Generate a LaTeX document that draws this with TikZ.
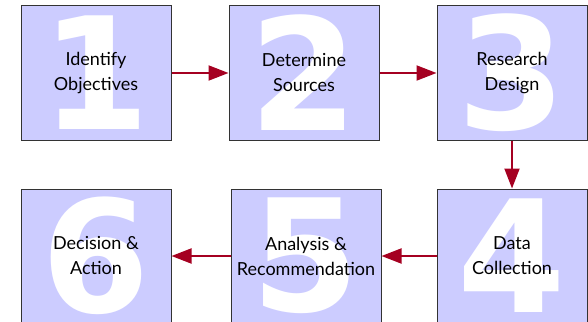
\documentclass[tikz,border=0pt]{standalone}
\usepackage{fontspec}
\setmainfont{Lato}
\newfontfamily\numfont{DejaVu Sans}
\usetikzlibrary{arrows.meta,positioning}
\definecolor{lavender}{RGB}{204,204,255}
\definecolor{dred}{RGB}{165,0,33}
\definecolor{frame}{RGB}{51,51,51}

\begin{document}
\begin{tikzpicture}[
  x=1pt, y=1pt,
  >={Triangle[length=20pt,width=15pt]},
  bignum/.style={draw=none, fill=none, minimum size=0pt, inner sep=0pt, anchor=center,
    text=white, font=\numfont\bfseries\fontsize{156}{156}\selectfont},
  box/.style={draw=frame, fill=lavender, line width=1pt, minimum width=150pt, minimum height=134pt,
    inner sep=0pt, align=center, font=\fontsize{18}{25}\selectfont,
    path picture={\node[bignum] (num#1) at (path picture bounding box.center) {#1};}},
  flow/.style={->, line width=2pt, draw=dred}
]
\useasboundingbox (0,0) rectangle (588,-321);

% Top row, left to right
\node[box=1] (ident) at (96,-73) {Identify\\Objectives};
\node[box=2, right=57pt of ident] (sources) {Determine\\Sources};
\node[box=3, right=57pt of sources] (design) {Research\\Design};

% Bottom row, right to left
\node[box=4, below=48pt of design] (collect) {Data\\Collection};
\node[box=5, left=55pt of collect] (analysis) {Analysis \&\\Recommendation};
\node[box=6, left=59pt of analysis] (decide) {Decision \&\\Action};

% Arrows
\draw[flow] (ident) -- (sources);
\draw[flow] (sources) -- (design);
\draw[flow] (design) -- (collect);
\draw[flow] (collect) -- (analysis);
\draw[flow] (analysis) -- (decide);

\end{tikzpicture}
\end{document}
